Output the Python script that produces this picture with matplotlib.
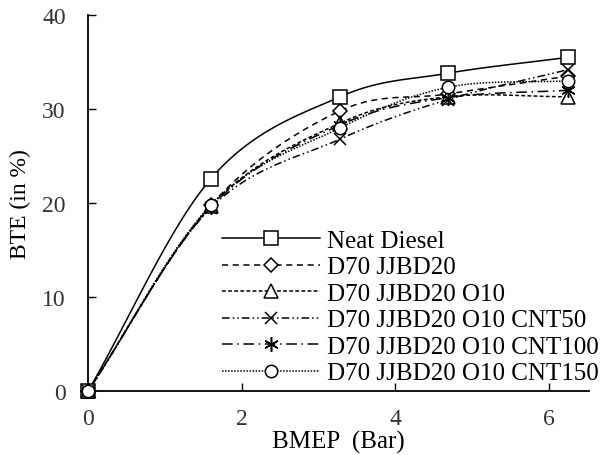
import numpy as np
import matplotlib
matplotlib.use("Agg")
import matplotlib.pyplot as plt
from matplotlib.lines import Line2D

plt.rcParams['font.family'] = ['Liberation Serif', 'DejaVu Serif']

bmep = [0, 1.6, 3.28, 4.68, 6.25]
series_names = ["Neat Diesel", "D70 JJBD20", "D70 JJBD20 O10",
                "D70 JJBD20 O10 CNT50", "D70 JJBD20 O10 CNT100",
                "D70 JJBD20 O10 CNT150"]
neat_diesel = [0, 22.6, 31.3, 33.8, 35.5]
jjbd20 = [0, 19.8, 29.8, 31.6, 33.5]
jjbd20_o10 = [0, 19.7, 28.5, 31.3, 31.3]
cnt50 = [0, 19.5, 26.8, 31.0, 34.2]
cnt100 = [0, 19.6, 28.3, 31.2, 32.0]
cnt150 = [0, 19.8, 28.0, 32.3, 33.0]
x_ticks = [0, 2, 4, 6]
y_ticks = [0, 10, 20, 30, 40]

styles = [
    dict(ls='-', marker='s'),
    dict(ls=(0, (4, 3)), marker='D', ms_scale=0.7),
    dict(ls=(0, (2.5, 1.5)), marker='^'),
    dict(ls=(0, (5, 2, 1, 2, 1, 2)), marker='x', ms_scale=0.85),
    dict(ls=(0, (7, 3, 1, 3)), marker=(6, 2, 0)),
    dict(ls=(0, (1, 1)), marker='o', ms_scale=0.85),
]
data = [neat_diesel, jjbd20, jjbd20_o10, cnt50, cnt100, cnt150]


def smooth(x, y, n=30):
    # Catmull-Rom spline through the points (Excel-like smoothed line)
    x = np.asarray(x, float)
    y = np.asarray(y, float)
    P = np.column_stack([x, y])
    P = np.vstack([P[0] - (P[1] - P[0]), P, P[-1] + (P[-1] - P[-2])])
    out = []
    for i in range(1, len(P) - 2):
        p0, p1, p2, p3 = P[i - 1], P[i], P[i + 1], P[i + 2]
        t = np.linspace(0, 1, n)[:, None]
        seg = 0.5 * ((2 * p1) + (-p0 + p2) * t + (2 * p0 - 5 * p1 + 4 * p2 - p3) * t ** 2
                     + (-p0 + 3 * p1 - 3 * p2 + p3) * t ** 3)
        out.append(seg if i == 1 else seg[1:])
    S = np.vstack(out)
    return S[:, 0], S[:, 1]


fig = plt.figure(figsize=(6.03, 4.56), dpi=100)
ax = fig.add_axes([0.146, 0.140, 0.831, 0.825])

handles = []
for name, ys, st in zip(series_names, data, styles):
    sx, sy = smooth(bmep, ys)
    ax.plot(sx, sy, color='black', lw=1.1, ls=st['ls'], clip_on=False)
    ms = 10.5 * st.get('ms_scale', 1.0)
    ax.plot(bmep, ys, ls='none', marker=st['marker'], ms=ms, mfc='white',
            mec='black', mew=1.1, clip_on=False, zorder=3)
    handles.append(Line2D([], [], color='black', lw=1.1, ls=st['ls'],
                          marker=st['marker'], ms=ms, mfc='white', mec='black', mew=1.1))

ax.set_xlim(0, 6.52)
ax.set_ylim(0, 40)
ax.set_xticks(x_ticks)
ax.set_yticks(y_ticks)
for s in ['top', 'right']:
    ax.spines[s].set_visible(False)
for s in ['left', 'bottom']:
    ax.spines[s].set_linewidth(1.3)
ax.tick_params(direction='in', length=6, width=1.0, labelsize=17, colors='black')
ax.tick_params(axis='y', pad=16)
ax.tick_params(axis='x', pad=12)
for lab in ax.get_xticklabels() + ax.get_yticklabels():
    lab.set_color('#333333')

ax.set_xlabel('BMEP  (Bar)', fontsize=18, labelpad=1)
ax.set_ylabel('BTE (in %)', fontsize=17, labelpad=8)

leg = fig.legend(handles, series_names, loc='lower right', bbox_to_anchor=(0.993, 0.155),
                 frameon=False, fontsize=18, handlelength=3.9, handletextpad=0.3,
                 labelspacing=0.16, borderaxespad=0.0, borderpad=0.0)

fig.savefig('out.png', dpi=100)
